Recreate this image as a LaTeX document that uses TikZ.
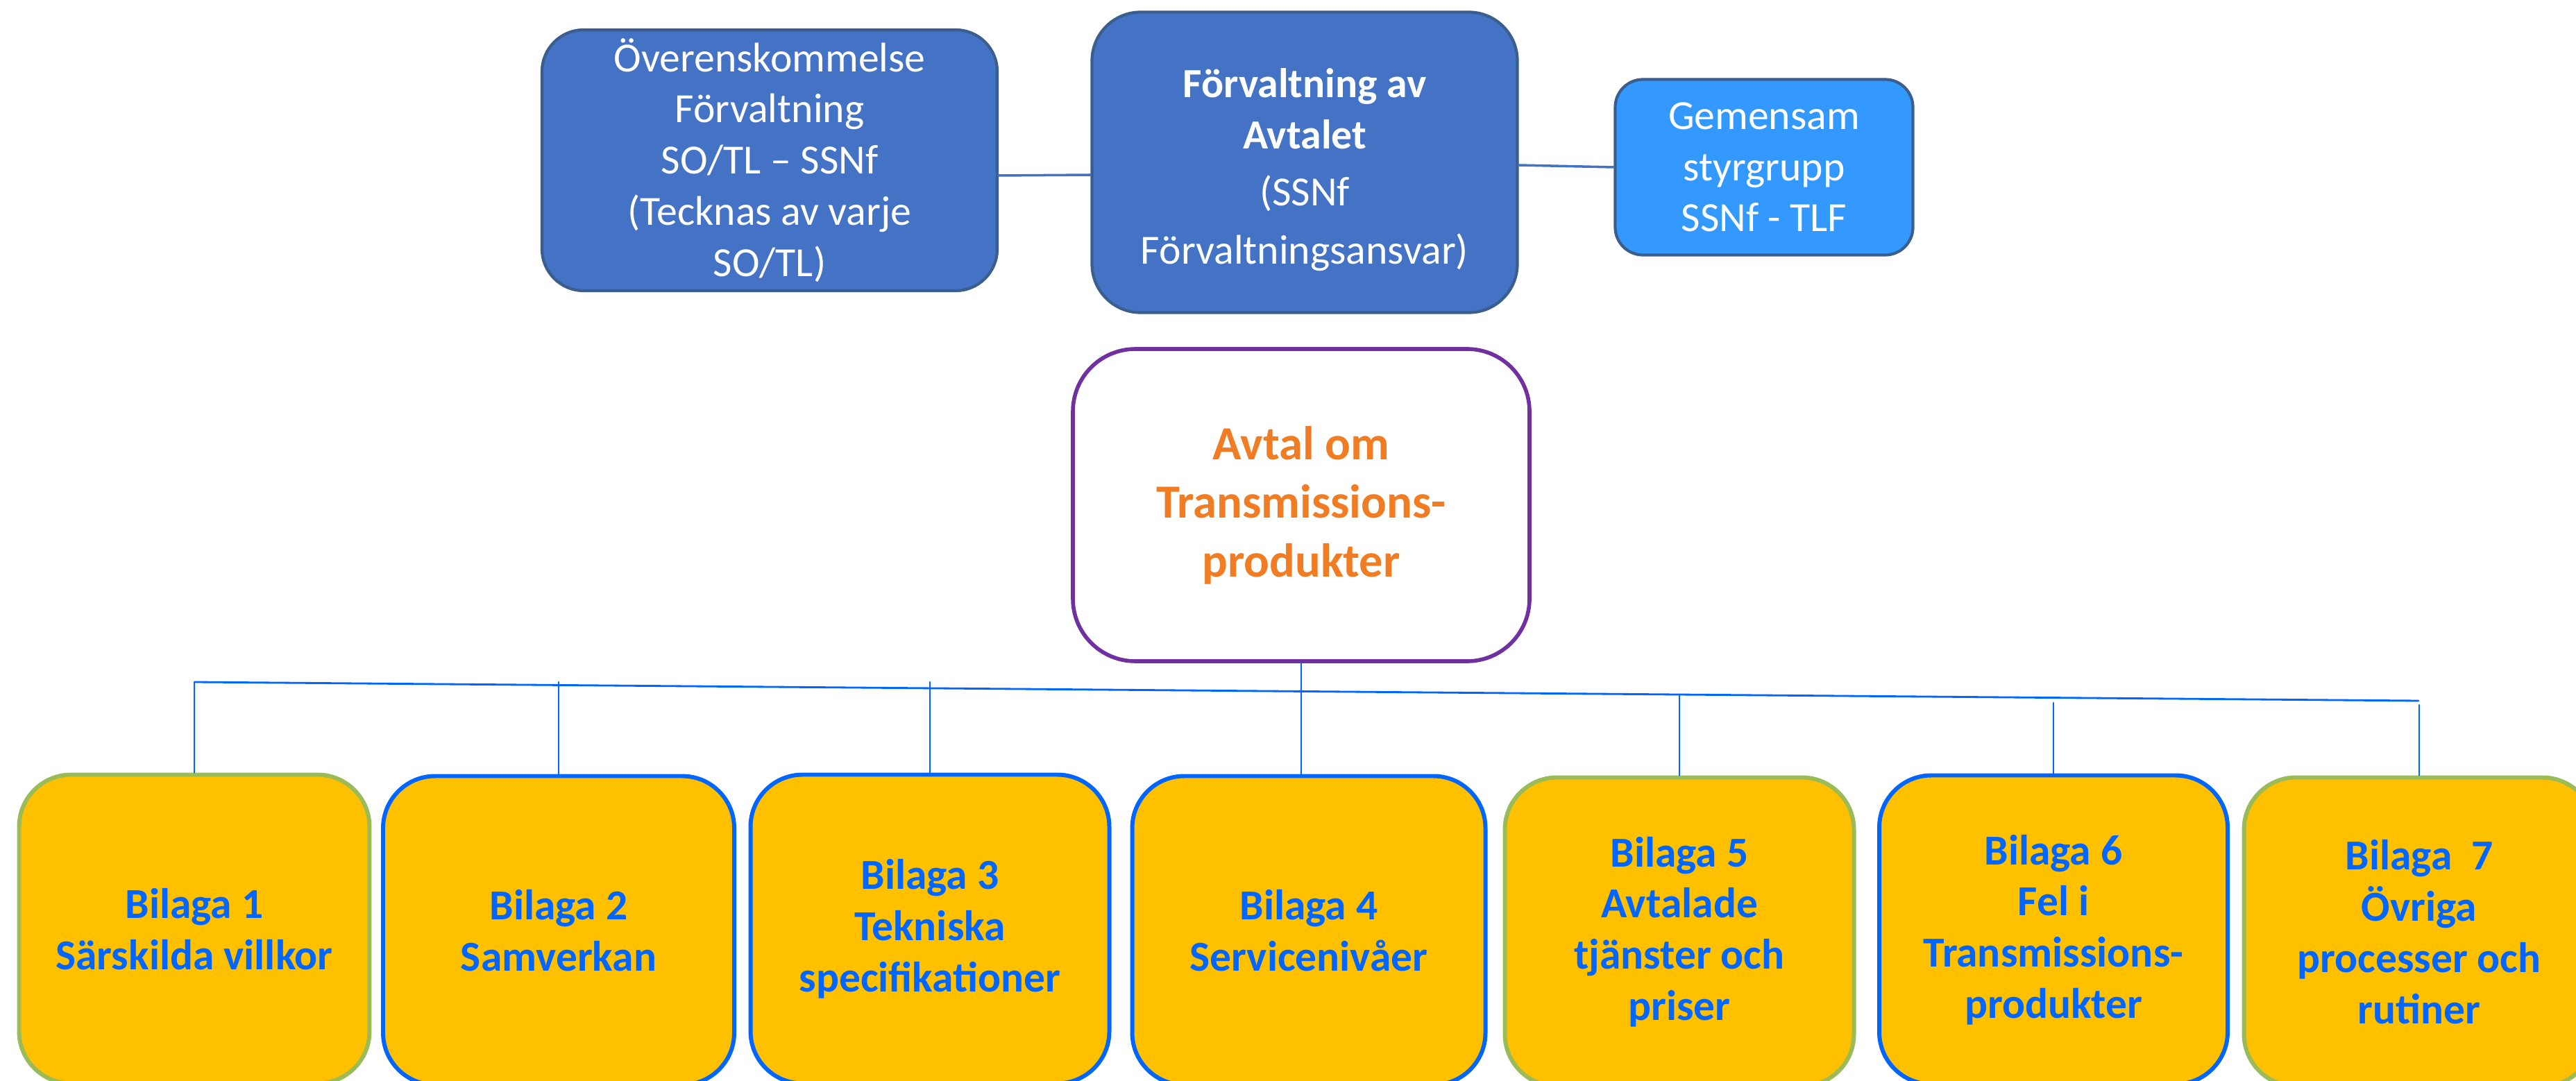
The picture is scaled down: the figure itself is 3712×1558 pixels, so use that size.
\documentclass[tikz,border=0pt]{standalone}
\usepackage{fontspec}
\setmainfont{Carlito}
\usepackage{tikz}
\usetikzlibrary{calc}

\definecolor{topblue}{HTML}{4472C4}
\definecolor{topedge}{HTML}{3A5F8F}
\definecolor{lightblue}{HTML}{3399FF}
\definecolor{linkblue}{HTML}{0066FF}
\definecolor{bilgreen}{HTML}{9BBB59}
\definecolor{bilfill}{HTML}{FFC000}
\definecolor{avtalpurple}{HTML}{7030A0}
\definecolor{avtalorange}{HTML}{F07C23}

\tikzset{
  topbox/.style={rectangle, rounded corners=6mm, fill=topblue, draw=topedge,
    line width=1.2pt, text=white, align=center, inner sep=0pt,
    font=\fontsize{17}{21}\selectfont},
  avtalbox/.style={rectangle, rounded corners=9mm, fill=white, draw=avtalpurple,
    line width=1.6pt, text=avtalorange, align=center, inner sep=0pt,
    font=\fontsize{19.5}{24}\selectfont\bfseries},
  bilbox/.style={rectangle, rounded corners=7.5mm, fill=bilfill,
    line width=1.7pt, text=linkblue, align=center, inner sep=0pt,
    minimum height=44.5mm, font=\fontsize{17.5}{21}\selectfont\bfseries},
  toplink/.style={draw=topblue, line width=1pt},
  buslink/.style={draw=linkblue, line width=0.8pt}
}

\begin{document}
\begin{tikzpicture}[x=0.1mm, y=-0.1mm, line cap=round, line join=round]
                \useasboundingbox (0,0) rectangle (3712,1558);

                % Top row
                \node[topbox, minimum width=65.6mm, minimum height=37.6mm] (overens) at (1109,231)
                    {Överenskommelse\\Förvaltning\\SO/TL – SSNf\\(Tecknas av varje\\SO/TL)};
                \node[topbox, rounded corners=7mm, minimum width=61.3mm, minimum height=43.3mm] (forvalt) at (1880,234)
                    {\rule{0pt}{18pt}\textbf{Förvaltning av}\\\textbf{Avtalet}\\[2.3pt](SSNf\\[3pt]Förvaltningsansvar)};
                \node[topbox, rounded corners=4mm, fill=lightblue, minimum width=42.9mm, minimum height=25.3mm] (styr) at (2542,241)
                    {Gemensam\\styrgrupp\\SSNf - TLF};

                \draw[toplink] ([yshift=-2.2mm]overens.east) -- ([yshift=-1.8mm]forvalt.west);
                \draw[toplink] ([yshift=-0.4mm]forvalt.east) -- (styr.west);

                % Main agreement
                \node[avtalbox, minimum width=65.8mm, minimum height=45mm] (avtal) at (1875,728)
                    {Avtal om\\Transmissions-\\produkter};

                % Appendices
                \node[bilbox, draw=bilgreen, minimum width=50.5mm] (b1) at (280,1339) {Bilaga 1\\Särskilda villkor};
                \node[bilbox, draw=linkblue, minimum width=50.6mm] (b2) at (805,1341) {Bilaga 2\\Samverkan};
                \node[bilbox, draw=linkblue, minimum width=51.7mm] (b3) at (1340,1339) {Bilaga 3\\Tekniska\\specifikationer};
                \node[bilbox, draw=linkblue, minimum width=50.9mm] (b4) at (1886,1341) {Bilaga 4\\Servicenivåer};
                \node[bilbox, draw=bilgreen, minimum width=50.3mm] (b5) at (2420,1343) {Bilaga 5\\Avtalade\\tjänster och\\priser};
                \node[bilbox, draw=linkblue, minimum width=50.2mm] (b6) at (2959,1340) {Bilaga 6\\Fel i\\Transmissions-\\produkter};
                \node[bilbox, draw=bilgreen, minimum width=50.5mm] (b7) at (3486,1343) {Bilaga~~7\\Övriga\\processer och\\rutiner};

                % Bus
                \coordinate (busL) at (281,983);
                \coordinate (busR) at (3485,1010);
                \draw[buslink] (busL) -- (busR);
                \draw[buslink] (avtal.south) -- (avtal.south |- b4.north);
                \foreach \b/\y in {b1/983, b2/983, b3/983, b5/1001, b6/1013, b7/1016}{
                    \draw[buslink] (\b.north |- 0,\y) -- (\b.north);
                }

            \end{tikzpicture}
\end{document}
